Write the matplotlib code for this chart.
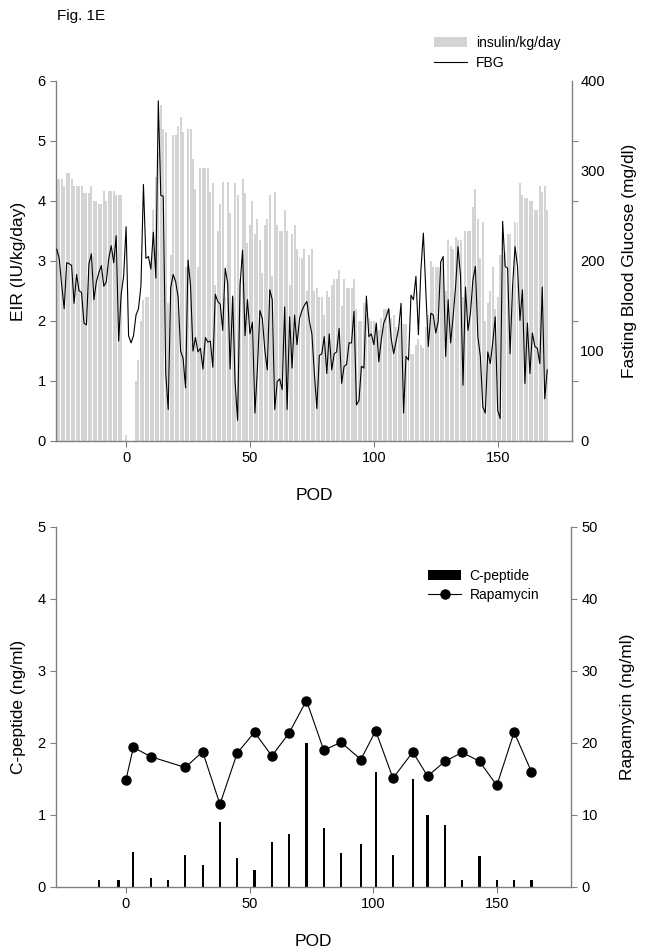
import numpy as np
import matplotlib
matplotlib.use("Agg")
import matplotlib.pyplot as plt
from matplotlib.patches import Patch
from matplotlib.lines import Line2D

plt.rcParams['font.family'] = ['Liberation Sans', 'DejaVu Sans']

# ---- top panel: daily insulin dose (EIR) and fasting blood glucose, POD -28..170
first_day = -28
eir = [
    4.36, 4.36, 4.36, 4.25, 4.47, 4.47, 4.36, 4.25, 4.25, 4.25,
    4.25, 4.13, 4.13, 4.13, 4.25, 4.0, 4.0, 3.95, 3.95, 4.17,
    4.0, 4.17, 4.17, 4.17, 4.1, 4.1, 4.1, 0, 0.1, 0,
    0, 0, 1.0, 1.35, 2.0, 2.35, 2.4, 2.4, 3.0, 3.85,
    4.4, 4.8, 5.6, 5.2, 5.15, 2.3, 3.1, 5.1, 5.1, 5.25,
    5.4, 5.15, 2.9, 5.2, 5.2, 4.7, 4.2, 2.9, 4.55, 4.55,
    4.55, 4.55, 4.15, 4.3, 2.6, 3.5, 3.95, 4.32, 2.4, 4.32,
    3.8, 2.4, 4.3, 4.1, 2.7, 4.36, 4.13, 3.3, 3.6, 4.0,
    3.45, 3.7, 3.35, 2.8, 3.6, 3.7, 4.1, 2.75, 4.15, 3.6,
    3.5, 3.5, 3.85, 3.5, 2.6, 3.45, 3.6, 3.2, 3.05, 3.05,
    3.2, 2.5, 3.1, 3.2, 2.5, 2.55, 2.4, 2.4, 2.1, 2.5,
    2.4, 2.6, 2.7, 2.7, 2.85, 2.25, 2.7, 2.55, 2.55, 2.55,
    2.7, 2.2, 2.0, 2.0, 2.3, 2.1, 2.05, 2.0, 2.0, 1.95,
    1.85, 2.05, 2.2, 2.2, 2.2, 2.05, 2.1, 1.9, 1.9, 2.0,
    1.95, 1.95, 1.45, 1.45, 1.45, 1.6, 1.7, 1.6, 1.55, 1.9,
    2.1, 3.0, 2.9, 2.9, 2.9, 2.9, 3.05, 2.5, 3.35, 3.25,
    3.2, 3.4, 3.35, 3.35, 2.4, 3.5, 3.5, 3.5, 3.9, 4.2,
    3.7, 3.05, 3.65, 2.0, 2.3, 2.5, 2.9, 2.2, 2.4, 3.1,
    3.1, 3.15, 3.45, 3.45, 2.6, 3.65, 3.65, 4.3, 4.1, 4.05,
    4.05, 4.0, 4.0, 3.85, 3.85, 4.25, 4.15, 4.25, 3.85,
]
fbg = [
    213, 203, 173, 147, 198, 197, 195, 153, 185, 167,
    165, 131, 129, 197, 208, 157, 177, 187, 195, 172,
    177, 203, 217, 198, 228, 111, 163, 183, 238, 117,
    109, 117, 140, 147, 173, 285, 203, 205, 191, 232,
    181, 378, 273, 272, 75, 35, 170, 185, 177, 160,
    100, 92, 59, 201, 173, 100, 115, 99, 103, 80,
    115, 110, 111, 82, 163, 155, 152, 123, 192, 175,
    80, 161, 65, 23, 173, 212, 117, 157, 119, 132,
    31, 80, 145, 136, 101, 79, 168, 157, 35, 66,
    69, 57, 149, 35, 138, 81, 140, 107, 136, 145,
    151, 155, 133, 119, 75, 36, 95, 97, 116, 75,
    119, 79, 97, 99, 125, 64, 83, 85, 109, 109,
    144, 40, 45, 83, 81, 161, 116, 119, 107, 131,
    88, 112, 131, 138, 147, 114, 97, 111, 125, 153,
    31, 94, 90, 162, 157, 183, 118, 190, 231, 166,
    105, 142, 140, 120, 133, 199, 205, 94, 157, 109,
    138, 171, 216, 183, 62, 171, 123, 142, 179, 194,
    116, 94, 38, 31, 99, 86, 109, 138, 34, 25,
    244, 194, 192, 97, 171, 216, 194, 134, 168, 64,
    131, 75, 120, 105, 103, 86, 171, 47, 79,
]
days = np.arange(first_day, first_day + len(eir))

# ---- bottom panel: C-peptide and rapamycin trough levels
cpep_days = [-11, -3, 3, 10, 17, 24, 31, 38, 45, 52, 59, 66, 73, 80, 87, 95,
             101, 108, 116, 122, 129, 136, 143, 150, 157, 164]
cpep = [0.1, 0.1, 0.49, 0.12, 0.1, 0.45, 0.3, 0.9, 0.4, 0.24, 0.62, 0.74, 2.0,
        0.82, 0.47, 0.6, 1.6, 0.45, 1.5, 1.0, 0.86, 0.1, 0.43, 0.1, 0.1, 0.1]
rapa_days = [0, 3, 10, 24, 31, 38, 45, 52, 59, 66, 73, 80, 87, 95, 101, 108,
             116, 122, 129, 136, 143, 150, 157, 164]
rapa = [14.9, 19.4, 18.1, 16.6, 18.8, 11.5, 18.6, 21.5, 18.2, 21.4, 25.9, 19.0,
        20.1, 17.7, 21.7, 15.1, 18.75, 15.4, 17.45, 18.7, 17.45, 14.1, 21.5, 16.0]

pod_ticks = [0, 50, 100, 150]
SPINE = '#808080'
W, H = 649, 952


def style_axes(ax, ax2):
    for a in (ax, ax2):
        a.spines['top'].set_visible(False)
        for s in ('left', 'right', 'bottom'):
            a.spines[s].set_color(SPINE)
            a.spines[s].set_linewidth(1.0)
        a.tick_params(direction='out', length=4, width=0.8, color=SPINE,
                      labelsize=10.5, labelcolor='black')
    ax2.spines['left'].set_visible(False)
    ax2.spines['bottom'].set_visible(False)
    ax.spines['right'].set_visible(False)
    ax.set_xlim(-28.3, 180)
    ax.set_xticks(pod_ticks)
    ax.set_xlabel('POD', fontsize=12.5)
    ax.xaxis.set_label_coords(0.5, -0.13)
    ax.yaxis.set_label_coords(-0.058, 0.5)
    ax2.yaxis.set_label_coords(1.096, 0.5)


fig = plt.figure(figsize=(W / 100, H / 100), dpi=100)

# top panel
ax1 = fig.add_axes([56 / W, 1 - 441 / H, 516 / W, 360 / H])
ax1b = ax1.twinx()
ax1.bar(days, eir, width=0.8, color='#d4d4d4', linewidth=0)
ax1b.plot(days, fbg, color='black', linewidth=0.8)
ax1.set_ylim(0, 6)
ax1.set_yticks(range(0, 7))
ax1b.set_ylim(0, 400)
ax1b.set_yticks([0, 100, 200, 300, 400])
ax1b.set_yticks(np.linspace(0, 400, 7), minor=True)
ax1.set_ylabel('EIR (IU/kg/day)', fontsize=12.5)
ax1b.set_ylabel('Fasting Blood Glucose (mg/dl)', fontsize=12.5)
style_axes(ax1, ax1b)
ax1b.tick_params(axis='y', which='major', length=0, pad=6)
ax1b.tick_params(axis='y', which='minor', length=4, width=0.8, color=SPINE)

fig.legend(handles=[Patch(facecolor='#d4d4d4', edgecolor='none'),
                    Line2D([], [], color='black', linewidth=0.8)],
           labels=['insulin/kg/day', 'FBG'],
           loc='upper left', bbox_to_anchor=(434 / W, 1 - 36 / H),
           frameon=False, fontsize=10, borderpad=0, borderaxespad=0,
           handlelength=2.4, handletextpad=0.6, labelspacing=0.45)

fig.text(57 / W, 1 - 16 / H, 'Fig. 1E', fontsize=11, va='center', ha='left')

# bottom panel
ax2 = fig.add_axes([56 / W, 1 - 887 / H, 515 / W, 360 / H])
ax2b = ax2.twinx()
ax2.bar(cpep_days, cpep, width=0.9, color='black', linewidth=0)
ax2b.plot(rapa_days, rapa, color='black', linewidth=0.8, marker='o',
          markersize=6.5, markerfacecolor='black', markeredgecolor='black')
ax2.set_ylim(0, 5)
ax2.set_yticks(range(0, 6))
ax2b.set_ylim(0, 50)
ax2b.set_yticks(range(0, 51, 10))
ax2.set_ylabel('C-peptide (ng/ml)', fontsize=12.5)
ax2b.set_ylabel('Rapamycin (ng/ml)', fontsize=12.5)
style_axes(ax2, ax2b)

fig.legend(handles=[Patch(facecolor='black', edgecolor='none'),
                    Line2D([], [], color='black', linewidth=0.8, marker='o',
                           markersize=6.5)],
           labels=['C-peptide', 'Rapamycin'],
           loc='upper left', bbox_to_anchor=(428 / W, 1 - 569 / H),
           frameon=False, fontsize=10, borderpad=0, borderaxespad=0,
           handlelength=2.4, handletextpad=0.6, labelspacing=0.35)

fig.savefig('out.png', dpi=100)
